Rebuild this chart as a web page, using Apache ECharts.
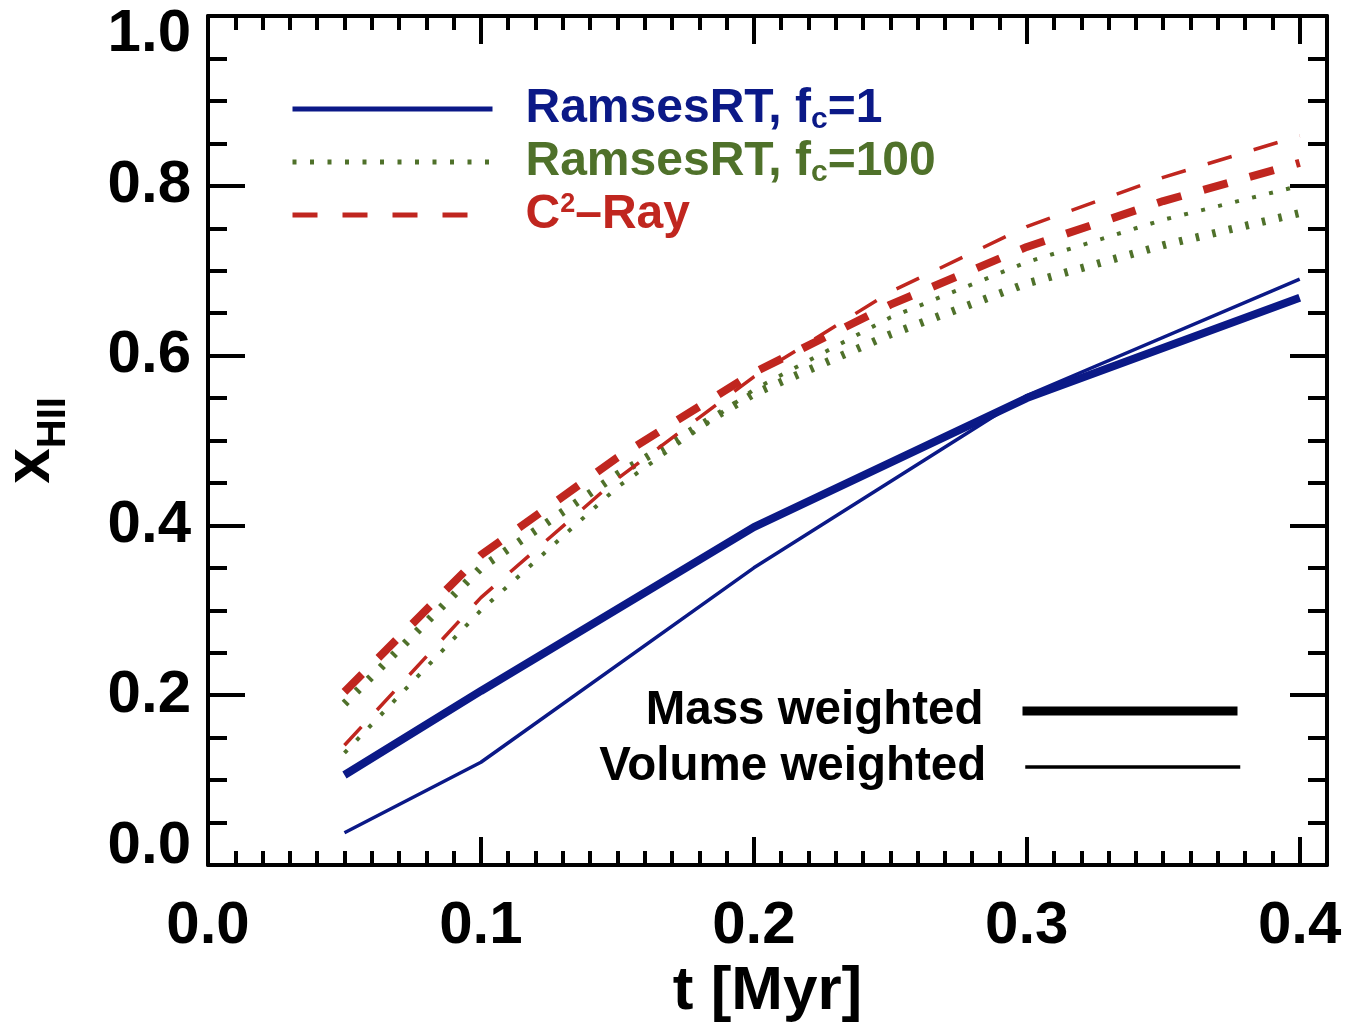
<!DOCTYPE html>
<html>
<head>
<meta charset="utf-8">
<title>Ionized fraction vs time</title>
<script src="https://cdn.jsdelivr.net/npm/echarts@6/dist/echarts.min.js"></script>
<style>
  html, body { margin: 0; padding: 0; background: #fff; }
  #chart { width: 1356px; height: 1027px; }
</style>
</head>
<body>
<div id="chart"></div>
<script>
// Sampling times [Myr]
const tCoarse = [0.05, 0.10, 0.20, 0.30, 0.40];
const tFine = [0.05, 0.10, 0.15, 0.20, 0.25, 0.30, 0.35, 0.40];

// Ionized fraction x_HII
const ramses1Mass   = [0.106, 0.205, 0.398, 0.550, 0.668];
const ramses1Vol    = [0.038, 0.121, 0.350, 0.553, 0.690];
const ramses100Mass = [0.190, 0.350, 0.460, 0.555, 0.625, 0.685, 0.730, 0.768];
const ramses100Vol  = [0.132, 0.300, 0.445, 0.560, 0.645, 0.710, 0.760, 0.800];
const c2rayMass     = [0.204, 0.365, 0.480, 0.580, 0.660, 0.728, 0.782, 0.827];
const c2rayVol      = [0.141, 0.315, 0.455, 0.575, 0.675, 0.752, 0.810, 0.859];

// Axis ticks
const xMajorTicks = ['0.0', '0.1', '0.2', '0.3', '0.4'];
const yMajorTicks = ['0.0', '0.2', '0.4', '0.6', '0.8', '1.0'];

const FONT = "'Liberation Sans', Arial, Helvetica, sans-serif";
const BLUE = '#0b1987';
const GREEN = '#4f712a';
const RED = '#c0261f';

const pairs = (xs, ys) => xs.map((x, i) => [x, ys[i]]);

const chart = echarts.init(document.getElementById('chart'), null, { renderer: 'canvas' });

const X_MIN = 0, X_MAX = 0.41, Y_MIN = 0, Y_MAX = 1;

function xAxisDef(pos, interval, tickLen, major) {
  return {
    type: 'value', position: pos, min: X_MIN, max: X_MAX, interval: interval,
    axisLine: { show: major, onZero: false, lineStyle: { color: '#000', width: 4 } },
    axisTick: { show: true, inside: true, length: tickLen, lineStyle: { color: '#000', width: 4 } },
    axisLabel: { show: false },
    splitLine: { show: false }
  };
}
function yAxisDef(pos, interval, tickLen, major) {
  return {
    type: 'value', position: pos, min: Y_MIN, max: Y_MAX, interval: interval,
    axisLine: { show: major, onZero: false, lineStyle: { color: '#000', width: 4 } },
    axisTick: { show: true, inside: true, length: tickLen, lineStyle: { color: '#000', width: 4 } },
    axisLabel: { show: false },
    splitLine: { show: false }
  };
}

const xBottom = xAxisDef('bottom', 0.1, 28, true);
xBottom.axisLabel = {
  show: true, margin: 31, color: '#000', fontFamily: FONT, fontWeight: 'bold', fontSize: 60,
  formatter: v => {
    const idx = Math.round(v * 10);
    return Math.abs(v * 10 - idx) < 1e-6 && xMajorTicks[idx] ? xMajorTicks[idx] : '';
  }
};
xBottom.name = 't [Myr]';
xBottom.nameLocation = 'middle';
xBottom.nameGap = 94;
xBottom.nameTextStyle = { color: '#000', fontFamily: FONT, fontWeight: 'bold', fontSize: 62 };

const yLeft = yAxisDef('left', 0.2, 37, true);
yLeft.axisLabel = {
  show: true, margin: 17, color: '#000', fontFamily: FONT, fontWeight: 'bold', fontSize: 60,
  formatter: v => {
    const idx = Math.round(v * 5);
    const s = yMajorTicks[idx];
    if (idx === 0) return '{lo|' + s + '}';
    if (idx === 5) return '{hi|' + s + '}';
    return s;
  },
  rich: {
    lo: { fontFamily: FONT, fontWeight: 'bold', fontSize: 60, color: '#000', padding: [0, 0, 38, 0] },
    hi: { fontFamily: FONT, fontWeight: 'bold', fontSize: 60, color: '#000', padding: [36, 0, 0, 0] }
  }
};
yLeft.name = '{x|x}{s|HII}';
yLeft.nameLocation = 'middle';
yLeft.nameRotate = 90;
yLeft.nameGap = 145;
yLeft.nameTextStyle = {
  rich: {
    x: { fontFamily: FONT, fontWeight: 'bold', fontSize: 64, lineHeight: 64, color: '#000', verticalAlign: 'top', padding: [0, 0, 20, 0] },
    s: { fontFamily: FONT, fontWeight: 'bold', fontSize: 40, lineHeight: 40, color: '#000', verticalAlign: 'top', padding: [35, 0, 0, 0] }
  }
};

// rich styles for the model legend
function mainStyle(color, padLeft) {
  return { color: color, fontFamily: FONT, fontWeight: 'bold', fontSize: 48, lineHeight: 48, verticalAlign: 'top', padding: [0, 0, 4, padLeft] };
}
function subStyle(color, size, padTop) {
  return { color: color, fontFamily: FONT, fontWeight: 'bold', fontSize: size, lineHeight: size, verticalAlign: 'top', padding: [padTop, 0, 0, 0] };
}
const noMarker = { opacity: 0 };

const option = {
  backgroundColor: '#fff',
  animation: false,
  grid: { left: 208, right: 29, top: 16, bottom: 162, containLabel: false, outerBoundsMode: 'none' },
  xAxis: [
    xBottom,
    xAxisDef('bottom', 0.01, 14, false),
    xAxisDef('top', 0.1, 28, true),
    xAxisDef('top', 0.01, 14, false)
  ],
  yAxis: [
    yLeft,
    yAxisDef('left', 0.05, 19, false),
    yAxisDef('right', 0.2, 37, true),
    yAxisDef('right', 0.05, 19, false)
  ],
  legend: [
    {
      orient: 'vertical', left: 290, top: 85, padding: 0, itemGap: 1,
      itemWidth: 200, itemHeight: 20, selectedMode: false,
      itemStyle: noMarker,
      data: [
        { name: 'RamsesRT, fc=1', itemStyle: noMarker, lineStyle: { color: BLUE, width: 5, type: 'solid' } },
        { name: 'RamsesRT, fc=100', itemStyle: noMarker, lineStyle: { color: GREEN, width: 5, type: [4, 13.5] } },
        { name: 'C2-Ray', itemStyle: noMarker, lineStyle: { color: RED, width: 5, type: [25, 25] } }
      ],
      formatter: name => {
        if (name === 'RamsesRT, fc=1') return '{b0|RamsesRT, f}{bs|c}{bm|=1}';
        if (name === 'RamsesRT, fc=100') return '{g0|RamsesRT, f}{gs|c}{gm|=100}';
        return '{r0|C}{rp|2}{rm|\u2013Ray}';
      },
      textStyle: {
        rich: {
          b0: mainStyle(BLUE, 28), bm: mainStyle(BLUE, 0), bs: subStyle(BLUE, 30, 20),
          g0: mainStyle(GREEN, 28), gm: mainStyle(GREEN, 0), gs: subStyle(GREEN, 30, 20),
          r0: mainStyle(RED, 28), rm: mainStyle(RED, 0), rp: subStyle(RED, 27, 0)
        }
      }
    },
    {
      orient: 'vertical', right: 114, top: 687, padding: 0, align: 'right',
      itemWidth: 215, itemHeight: 20, selectedMode: false, itemStyle: noMarker,
      data: [{ name: 'Mass weighted', itemStyle: noMarker, lineStyle: { color: '#000', width: 9, type: 'solid' } }],
      formatter: name => '{k|' + name + '}',
      textStyle: { rich: { k: { color: '#000', fontFamily: FONT, fontWeight: 'bold', fontSize: 47.5, lineHeight: 48, padding: [0, 34, 0, 0] } } }
    },
    {
      orient: 'vertical', right: 114, top: 743, padding: 0, align: 'right',
      itemWidth: 215, itemHeight: 20, selectedMode: false, itemStyle: noMarker,
      data: [{ name: 'Volume weighted', itemStyle: noMarker, lineStyle: { color: '#000', width: 3.5, type: 'solid' } }],
      formatter: name => '{k|' + name + '}',
      textStyle: { rich: { k: { color: '#000', fontFamily: FONT, fontWeight: 'bold', fontSize: 47.5, lineHeight: 48, padding: [0, 34, 0, 0] } } }
    }
  ],
  series: [
    // legend entries
    { name: 'RamsesRT, fc=1', type: 'line', data: [], symbol: 'none', symbolSize: 0, lineStyle: { color: BLUE, width: 5 }, itemStyle: { color: BLUE } },
    { name: 'RamsesRT, fc=100', type: 'line', data: [], symbol: 'none', symbolSize: 0, lineStyle: { color: GREEN, width: 5, type: [4, 13.5] }, itemStyle: { color: GREEN } },
    { name: 'C2-Ray', type: 'line', data: [], symbol: 'none', symbolSize: 0, lineStyle: { color: RED, width: 5, type: [25, 25] }, itemStyle: { color: RED } },
    { name: 'Mass weighted', type: 'line', data: [], symbol: 'none', symbolSize: 0, lineStyle: { color: '#000', width: 9 }, itemStyle: { color: '#000' } },
    { name: 'Volume weighted', type: 'line', data: [], symbol: 'none', symbolSize: 0, lineStyle: { color: '#000', width: 3.5 }, itemStyle: { color: '#000' } },
    // curves
    { name: 'f1 mass', type: 'line', data: pairs(tCoarse, ramses1Mass), symbol: 'none', lineStyle: { color: BLUE, width: 8 }, z: 3 },
    { name: 'f1 volume', type: 'line', data: pairs(tCoarse, ramses1Vol), symbol: 'none', lineStyle: { color: BLUE, width: 3.5 }, z: 3 },
    { name: 'f100 mass', type: 'line', data: pairs(tFine, ramses100Mass), symbol: 'none', lineStyle: { color: GREEN, width: 8, type: [3.5, 13.5] }, z: 4 },
    { name: 'f100 volume', type: 'line', data: pairs(tFine, ramses100Vol), symbol: 'none', lineStyle: { color: GREEN, width: 4, type: [4, 13.5] }, z: 4 },
    { name: 'c2 mass', type: 'line', data: pairs(tFine, c2rayMass), symbol: 'none', lineStyle: { color: RED, width: 8, type: [25, 23] }, z: 5 },
    { name: 'c2 volume', type: 'line', data: pairs(tFine, c2rayVol), symbol: 'none', lineStyle: { color: RED, width: 3.5, type: [25, 23] }, z: 5 }
  ]
};

chart.setOption(option);
</script>
</body>
</html>
